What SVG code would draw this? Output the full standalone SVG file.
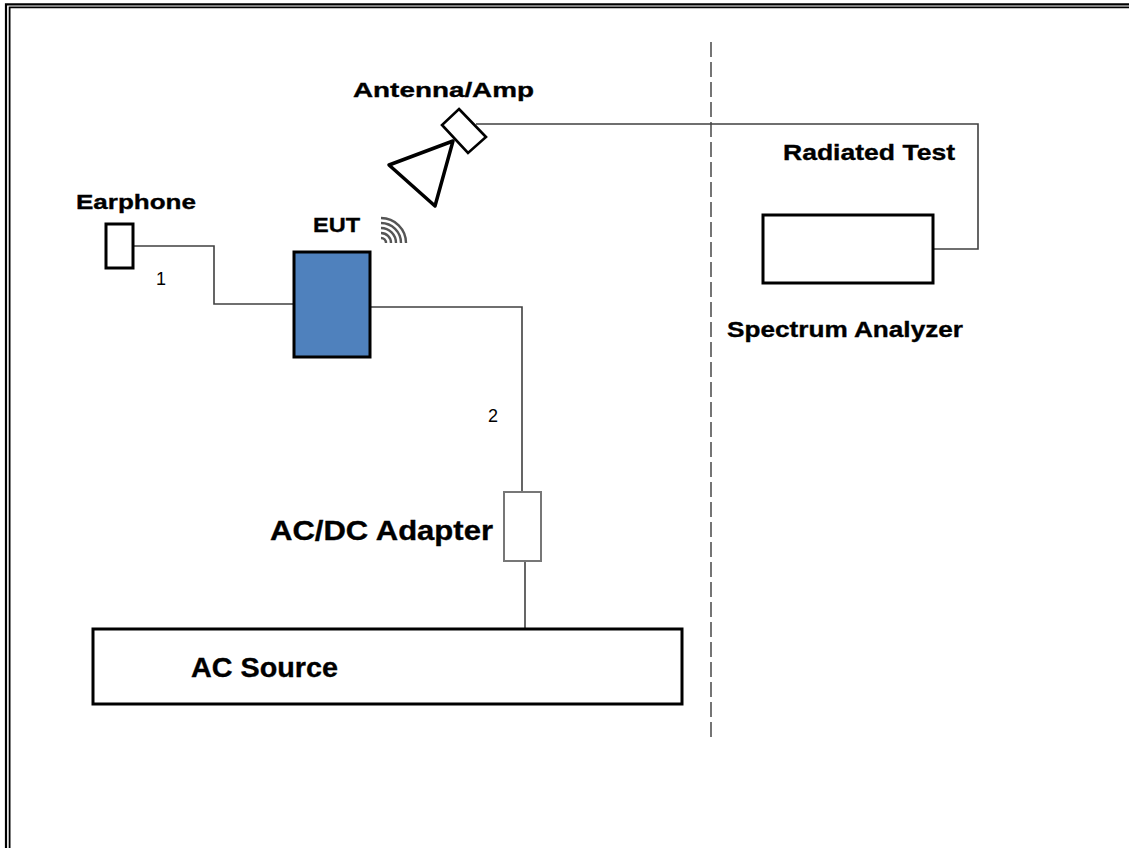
<svg xmlns="http://www.w3.org/2000/svg" width="1129" height="848" viewBox="0 0 1129 848">
<style>
.lbl{font-family:"Liberation Sans",Arial,sans-serif;font-weight:bold;fill:#000;stroke:#000;stroke-width:0.35}
.num{font-family:"Liberation Sans",Arial,sans-serif;fill:#000}
.wire{fill:none;stroke:#404040;stroke-width:1.6}
.box{fill:#fff;stroke:#000;stroke-width:3}
</style>
<rect width="1129" height="848" fill="#fff"/>
<g id="border" stroke="#000" fill="none">
<path d="M6,848 V4.3 H1129" stroke-width="2.2"/>
<path d="M9.6,848 V7.4 H1129" stroke-width="1.8"/>
</g>
<g id="divider">
<line x1="711" y1="42" x2="711" y2="742" stroke="#666" stroke-width="1.8" stroke-dasharray="15 5"/>
</g>
<g id="connectors">
<path class="wire" d="M133,246 H214 V304 H294"/>
<path class="wire" d="M370,307 H522 V492"/>
<path class="wire" d="M525,561 V629" stroke="#666" stroke-width="2"/>
<path class="wire" d="M476,124 H978 V249 H933"/>
</g>
<g id="earphone">
<rect x="106" y="224" width="27" height="44" class="box" stroke-width="2.6"/>
<text class="lbl" x="76" y="209" font-size="21" textLength="120" lengthAdjust="spacingAndGlyphs">Earphone</text>
<text class="num" x="156" y="285" font-size="18">1</text>
</g>
<g id="eut">
<rect x="294" y="252" width="76" height="105" fill="#4F81BD" stroke="#000" stroke-width="3"/>
<text class="lbl" x="313" y="232" font-size="21" textLength="47" lengthAdjust="spacingAndGlyphs">EUT</text>
<g fill="none" stroke="#555" stroke-width="2.4">
<path d="M381,238 A5,5 0 0 1 386,243"/>
<path d="M381,233 A10,10 0 0 1 391,243"/>
<path d="M381,228 A15,15 0 0 1 396,243"/>
<path d="M381,223 A20,20 0 0 1 401,243"/>
<path d="M381,218 A25,25 0 0 1 406,243"/>
</g>
</g>
<g id="antenna">
<polygon points="459,109 486,137 468,153 442,125" fill="#fff" stroke="#000" stroke-width="2.6"/>
<polygon points="453,141 389,165 435,206" fill="#fff" stroke="#000" stroke-width="3.5" stroke-linejoin="round"/>
<text class="lbl" x="353" y="97" font-size="21" textLength="181" lengthAdjust="spacingAndGlyphs">Antenna/Amp</text>
</g>
<g id="spectrum-analyzer">
<rect x="763" y="215" width="170" height="68" class="box"/>
<text class="lbl" x="783" y="160" font-size="22" textLength="172" lengthAdjust="spacingAndGlyphs">Radiated Test</text>
<text class="lbl" x="727" y="337" font-size="22" textLength="236" lengthAdjust="spacingAndGlyphs">Spectrum Analyzer</text>
</g>
<g id="adapter">
<rect x="504" y="492" width="37" height="69" fill="#fff" stroke="#777" stroke-width="2"/>
<text class="lbl" x="270" y="540" font-size="27" textLength="223" lengthAdjust="spacingAndGlyphs">AC/DC Adapter</text>
<text class="num" x="488" y="422" font-size="18">2</text>
</g>
<g id="ac-source">
<rect x="93" y="629" width="589" height="75" class="box" stroke-width="3.5"/>
<text class="lbl" x="191" y="677" font-size="27" textLength="147" lengthAdjust="spacingAndGlyphs">AC Source</text>
</g>
</svg>
